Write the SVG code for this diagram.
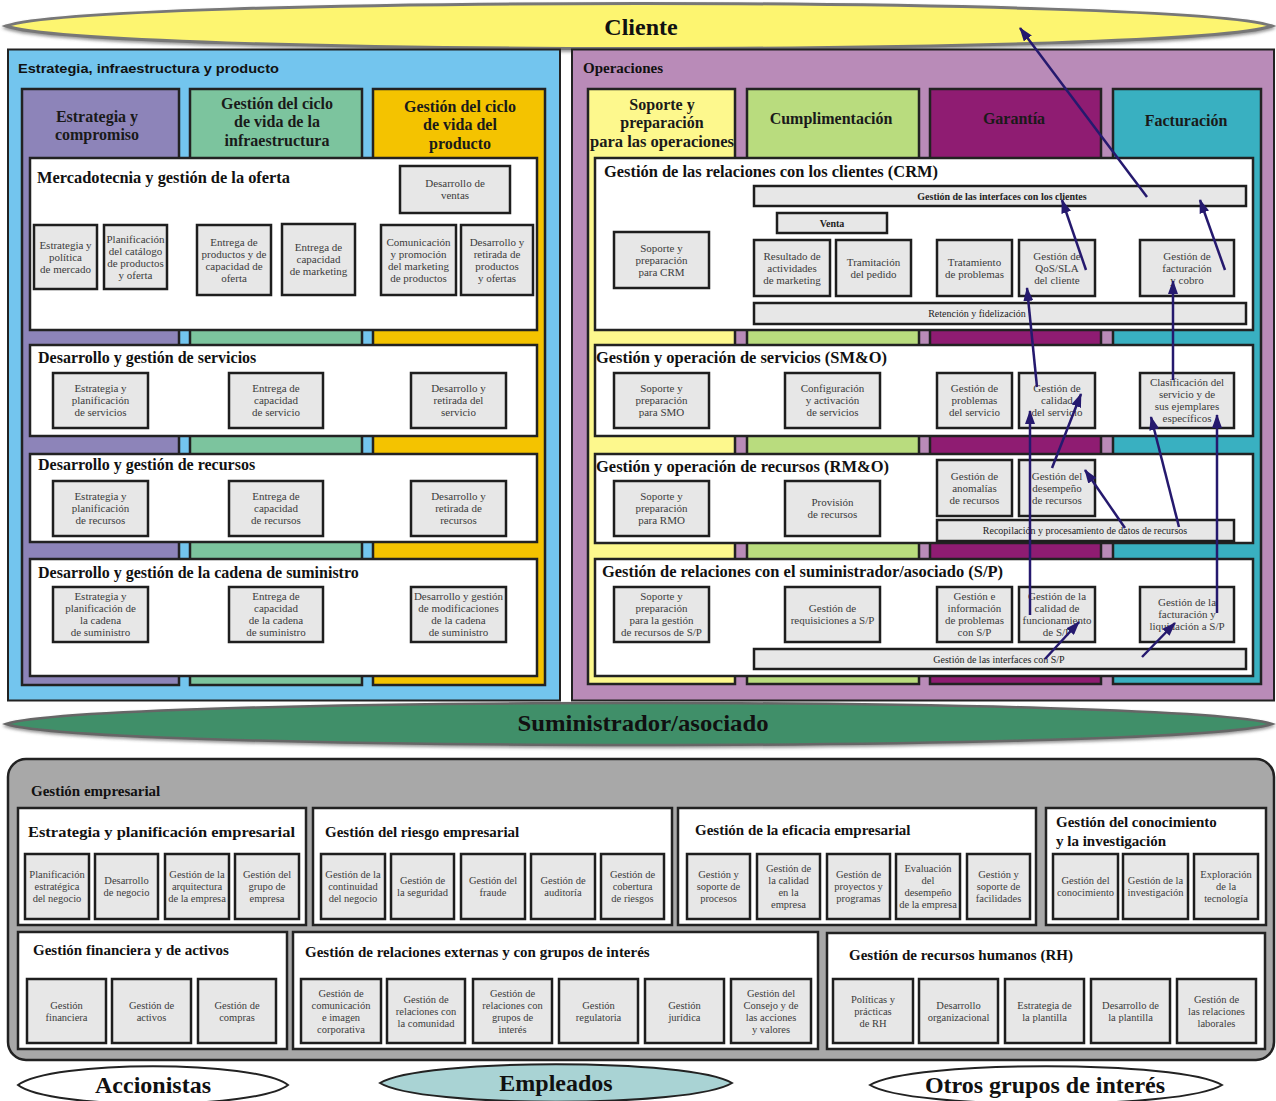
<svg xmlns="http://www.w3.org/2000/svg" width="1276" height="1101" viewBox="0 0 1276 1101">
<defs>
<style>
.panel{stroke:#222;stroke-width:2}
.col{stroke:#222;stroke-width:2.5}
.row{fill:#fff;stroke:#222;stroke-width:2.5}
.box{fill:#e7e7e7;stroke:#1e1e1e;stroke-width:2.5}
.bt{font-family:"Liberation Serif",serif;font-size:11px;fill:#3c3c3c;text-anchor:middle}
.bt2{font-family:"Liberation Serif",serif;font-size:10.5px;fill:#3c3c3c;text-anchor:middle}
.bart{font-family:"Liberation Serif",serif;font-size:10px;fill:#222;text-anchor:middle}
.hd{font-family:"Liberation Serif",serif;font-weight:bold;font-size:16px;fill:#1a1a1a;text-anchor:middle}
.rt{font-family:"Liberation Serif",serif;font-weight:bold;font-size:16px;fill:#111}
.gt{font-family:"Liberation Serif",serif;font-weight:bold;font-size:15px;fill:#111}
.big{font-family:"Liberation Serif",serif;font-weight:bold;font-size:24px;fill:#111;text-anchor:middle}
.conn{stroke:#25196e;stroke-width:2.5;fill:none;marker-end:url(#ah)}
</style>
<marker id="ah" viewBox="0 0 14 10" refX="13" refY="5" markerWidth="14" markerHeight="10" orient="auto" markerUnits="userSpaceOnUse"><path d="M0,0 L14,5 L0,10 z" fill="#25196e"/></marker>
<filter id="sh" x="-5%" y="-30%" width="110%" height="160%"><feDropShadow dx="0" dy="2" stdDeviation="1.5" flood-color="#555" flood-opacity="0.6"/></filter>
</defs>

<g id="cliente">
<path d="M6,26 C90,-4 1188,-4 1272,26 C1188,56 90,56 6,26 Z" fill="#fdf570" stroke="#777" stroke-width="3" filter="url(#sh)"/>
<text class="big" x="641" y="35">Cliente</text>
</g>

<g id="estrategia-panel">
<rect class="panel" x="8" y="49.5" width="552" height="651" fill="#73c5ee"/>
<text x="18" y="73" font-family="Liberation Sans,Arial,sans-serif" font-weight="bold" font-size="13.5" fill="#111" textLength="261" lengthAdjust="spacingAndGlyphs">Estrategia, infraestructura y producto</text>
<rect class="col" x="22" y="89" width="157" height="596" fill="#8d84b9"/>
<rect class="col" x="190" y="89" width="172" height="596" fill="#7cc49e"/>
<rect class="col" x="373" y="89" width="172" height="596" fill="#f4c300"/>
<text class="hd" x="97" y="122">Estrategia y</text>
<text class="hd" x="97" y="140">compromiso</text>
<text class="hd" x="277" y="109">Gestión del ciclo</text>
<text class="hd" x="277" y="127">de vida de la</text>
<text class="hd" x="277" y="146">infraestructura</text>
<text class="hd" x="460" y="112">Gestión del ciclo</text>
<text class="hd" x="460" y="130">de vida del</text>
<text class="hd" x="460" y="149">producto</text>
</g>

<g id="mercadotecnia">
<rect class="row" x="30" y="158" width="507" height="172"/>
<text class="rt" x="37" y="183" textLength="253" lengthAdjust="spacingAndGlyphs">Mercadotecnia y gestión de la oferta</text>
<rect class="box" x="400" y="166" width="110" height="47"/>
<text class="bt" x="455" y="187"><tspan x="455">Desarrollo de</tspan><tspan x="455" dy="12">ventas</tspan></text>
<rect class="box" x="34" y="225" width="63" height="64"/>
<text class="bt" x="65.5" y="248.5"><tspan x="65.5">Estrategia y</tspan><tspan x="65.5" dy="12">política</tspan><tspan x="65.5" dy="12">de mercado</tspan></text>
<rect class="box" x="104" y="225" width="63" height="64"/>
<text class="bt" x="135.5" y="242.5"><tspan x="135.5">Planificación</tspan><tspan x="135.5" dy="12">del catálogo</tspan><tspan x="135.5" dy="12">de productos</tspan><tspan x="135.5" dy="12">y oferta</tspan></text>
<rect class="box" x="197" y="225" width="74" height="70"/>
<text class="bt" x="234" y="245.5"><tspan x="234">Entrega de</tspan><tspan x="234" dy="12">productos y de</tspan><tspan x="234" dy="12">capacidad de</tspan><tspan x="234" dy="12">oferta</tspan></text>
<rect class="box" x="282" y="224" width="73" height="71"/>
<text class="bt" x="318.5" y="251"><tspan x="318.5">Entrega de</tspan><tspan x="318.5" dy="12">capacidad</tspan><tspan x="318.5" dy="12">de marketing</tspan></text>
<rect class="box" x="381" y="225" width="75" height="70"/>
<text class="bt" x="418.5" y="245.5"><tspan x="418.5">Comunicación</tspan><tspan x="418.5" dy="12">y promoción</tspan><tspan x="418.5" dy="12">del marketing</tspan><tspan x="418.5" dy="12">de productos</tspan></text>
<rect class="box" x="461" y="225" width="72" height="70"/>
<text class="bt" x="497" y="245.5"><tspan x="497">Desarrollo y</tspan><tspan x="497" dy="12">retirada de</tspan><tspan x="497" dy="12">productos</tspan><tspan x="497" dy="12">y ofertas</tspan></text>
</g>

<g id="servicios">
<rect class="row" x="30" y="345" width="507" height="91"/>
<text class="rt" x="38" y="363">Desarrollo y gestión de servicios</text>
<rect class="box" x="53" y="373" width="95" height="55"/>
<text class="bt" x="100.5" y="392"><tspan x="100.5">Estrategia y</tspan><tspan x="100.5" dy="12">planificación</tspan><tspan x="100.5" dy="12">de servicios</tspan></text>
<rect class="box" x="229" y="373" width="94" height="55"/>
<text class="bt" x="276" y="392"><tspan x="276">Entrega de</tspan><tspan x="276" dy="12">capacidad</tspan><tspan x="276" dy="12">de servicio</tspan></text>
<rect class="box" x="411" y="373" width="95" height="55"/>
<text class="bt" x="458.5" y="392"><tspan x="458.5">Desarrollo y</tspan><tspan x="458.5" dy="12">retirada del</tspan><tspan x="458.5" dy="12">servicio</tspan></text>
</g>

<g id="recursos">
<rect class="row" x="30" y="454" width="507" height="88"/>
<text class="rt" x="38" y="470">Desarrollo y gestión de recursos</text>
<rect class="box" x="53" y="481" width="95" height="55"/>
<text class="bt" x="100.5" y="500"><tspan x="100.5">Estrategia y</tspan><tspan x="100.5" dy="12">planificación</tspan><tspan x="100.5" dy="12">de recursos</tspan></text>
<rect class="box" x="229" y="481" width="94" height="55"/>
<text class="bt" x="276" y="500"><tspan x="276">Entrega de</tspan><tspan x="276" dy="12">capacidad</tspan><tspan x="276" dy="12">de recursos</tspan></text>
<rect class="box" x="411" y="481" width="95" height="55"/>
<text class="bt" x="458.5" y="500"><tspan x="458.5">Desarrollo y</tspan><tspan x="458.5" dy="12">retirada de</tspan><tspan x="458.5" dy="12">recursos</tspan></text>
</g>

<g id="cadena">
<rect class="row" x="30" y="559" width="507" height="117"/>
<text class="rt" x="38" y="578">Desarrollo y gestión de la cadena de suministro</text>
<rect class="box" x="53" y="587" width="95" height="55"/>
<text class="bt" x="100.5" y="600"><tspan x="100.5">Estrategia y</tspan><tspan x="100.5" dy="12">planificación de</tspan><tspan x="100.5" dy="12">la cadena</tspan><tspan x="100.5" dy="12">de suministro</tspan></text>
<rect class="box" x="229" y="587" width="94" height="55"/>
<text class="bt" x="276" y="600"><tspan x="276">Entrega de</tspan><tspan x="276" dy="12">capacidad</tspan><tspan x="276" dy="12">de la cadena</tspan><tspan x="276" dy="12">de suministro</tspan></text>
<rect class="box" x="411" y="587" width="95" height="55"/>
<text class="bt" x="458.5" y="600"><tspan x="458.5">Desarrollo y gestión</tspan><tspan x="458.5" dy="12">de modificaciones</tspan><tspan x="458.5" dy="12">de la cadena</tspan><tspan x="458.5" dy="12">de suministro</tspan></text>
</g>

<g id="operaciones-panel">
<rect class="panel" x="572" y="49.5" width="702" height="651" fill="#b98bb8"/>
<text x="583" y="73" font-family="Liberation Serif,serif" font-weight="bold" font-size="15" fill="#111">Operaciones</text>
<rect class="col" x="588" y="89" width="147" height="595" fill="#fdf88d"/>
<rect class="col" x="747" y="89" width="172" height="595" fill="#b9dc7e"/>
<rect class="col" x="930" y="89" width="171" height="595" fill="#8f1c72"/>
<rect class="col" x="1113" y="89" width="148" height="595" fill="#39b0c1"/>
<text class="hd" x="662" y="110">Soporte y</text>
<text class="hd" x="662" y="128">preparación</text>
<text class="hd" x="662" y="147" textLength="144" lengthAdjust="spacingAndGlyphs">para las operaciones</text>
<text class="hd" x="831" y="124">Cumplimentación</text>
<text class="hd" x="1014" y="124" fill="#2a1a24">Garantía</text>
<text class="hd" x="1186" y="126">Facturación</text>
</g>

<g id="crm">
<rect class="row" x="595" y="158" width="658" height="172"/>
<text class="rt" x="604" y="177" textLength="334" lengthAdjust="spacingAndGlyphs">Gestión de las relaciones con los clientes (CRM)</text>
<rect class="box" x="754" y="186" width="492" height="20"/>
<text class="bart" x="1002" y="200" font-weight="bold">Gestión de las interfaces con los clientes</text>
<rect class="box" x="777" y="213" width="110" height="20"/>
<text class="bart" x="832" y="227" font-weight="bold">Venta</text>
<rect class="box" x="614" y="232" width="95" height="56"/>
<text class="bt" x="661.5" y="251.5"><tspan x="661.5">Soporte y</tspan><tspan x="661.5" dy="12">preparación</tspan><tspan x="661.5" dy="12">para CRM</tspan></text>
<rect class="box" x="754" y="240" width="76" height="56"/>
<text class="bt" x="792" y="259.5"><tspan x="792">Resultado de</tspan><tspan x="792" dy="12">actividades</tspan><tspan x="792" dy="12">de marketing</tspan></text>
<rect class="box" x="836" y="240" width="75" height="56"/>
<text class="bt" x="873.5" y="265.5"><tspan x="873.5">Tramitación</tspan><tspan x="873.5" dy="12">del pedido</tspan></text>
<rect class="box" x="937" y="240" width="75" height="56"/>
<text class="bt" x="974.5" y="265.5"><tspan x="974.5">Tratamiento</tspan><tspan x="974.5" dy="12">de problemas</tspan></text>
<rect class="box" x="1019" y="240" width="76" height="56"/>
<text class="bt" x="1057" y="259.5"><tspan x="1057">Gestión de</tspan><tspan x="1057" dy="12">QoS/SLA</tspan><tspan x="1057" dy="12">del cliente</tspan></text>
<rect class="box" x="1140" y="240" width="94" height="56"/>
<text class="bt" x="1187" y="259.5"><tspan x="1187">Gestión de</tspan><tspan x="1187" dy="12">facturación</tspan><tspan x="1187" dy="12">y cobro</tspan></text>
<rect class="box" x="754" y="303" width="492" height="21"/>
<text class="bart" x="977" y="317">Retención y fidelización</text>
</g>

<g id="smo">
<rect class="row" x="595" y="345" width="658" height="91"/>
<text class="rt" x="596" y="363" textLength="291" lengthAdjust="spacingAndGlyphs">Gestión y operación de servicios (SM&amp;O)</text>
<rect class="box" x="614" y="373" width="95" height="55"/>
<text class="bt" x="661.5" y="392"><tspan x="661.5">Soporte y</tspan><tspan x="661.5" dy="12">preparación</tspan><tspan x="661.5" dy="12">para SMO</tspan></text>
<rect class="box" x="785" y="373" width="95" height="55"/>
<text class="bt" x="832.5" y="392"><tspan x="832.5">Configuración</tspan><tspan x="832.5" dy="12">y activación</tspan><tspan x="832.5" dy="12">de servicios</tspan></text>
<rect class="box" x="937" y="373" width="75" height="55"/>
<text class="bt" x="974.5" y="392"><tspan x="974.5">Gestión de</tspan><tspan x="974.5" dy="12">problemas</tspan><tspan x="974.5" dy="12">del servicio</tspan></text>
<rect class="box" x="1019" y="373" width="76" height="55"/>
<text class="bt" x="1057" y="392"><tspan x="1057">Gestión de</tspan><tspan x="1057" dy="12">calidad</tspan><tspan x="1057" dy="12">del servicio</tspan></text>
<rect class="box" x="1140" y="373" width="94" height="55"/>
<text class="bt" x="1187" y="386"><tspan x="1187">Clasificación del</tspan><tspan x="1187" dy="12">servicio y de</tspan><tspan x="1187" dy="12">sus ejemplares</tspan><tspan x="1187" dy="12">específicos</tspan></text>
</g>

<g id="rmo">
<rect class="row" x="595" y="454" width="658" height="89"/>
<text class="rt" x="596" y="472" textLength="293" lengthAdjust="spacingAndGlyphs">Gestión y operación de recursos (RM&amp;O)</text>
<rect class="box" x="614" y="481" width="95" height="55"/>
<text class="bt" x="661.5" y="500"><tspan x="661.5">Soporte y</tspan><tspan x="661.5" dy="12">preparación</tspan><tspan x="661.5" dy="12">para RMO</tspan></text>
<rect class="box" x="785" y="481" width="95" height="55"/>
<text class="bt" x="832.5" y="506"><tspan x="832.5">Provisión</tspan><tspan x="832.5" dy="12">de recursos</tspan></text>
<rect class="box" x="937" y="460" width="75" height="56"/>
<text class="bt" x="974.5" y="479.5"><tspan x="974.5">Gestión de</tspan><tspan x="974.5" dy="12">anomalías</tspan><tspan x="974.5" dy="12">de recursos</tspan></text>
<rect class="box" x="1019" y="460" width="76" height="56"/>
<text class="bt" x="1057" y="479.5"><tspan x="1057">Gestión del</tspan><tspan x="1057" dy="12">desempeño</tspan><tspan x="1057" dy="12">de recursos</tspan></text>
<rect class="box" x="937" y="520" width="297" height="21"/>
<text class="bart" x="1085" y="534">Recopilación y procesamiento de datos de recursos</text>
</g>

<g id="sp">
<rect class="row" x="595" y="559" width="658" height="117"/>
<text class="rt" x="602" y="577" textLength="401" lengthAdjust="spacingAndGlyphs">Gestión de relaciones con el suministrador/asociado (S/P)</text>
<rect class="box" x="614" y="587" width="95" height="55"/>
<text class="bt" x="661.5" y="600"><tspan x="661.5">Soporte y</tspan><tspan x="661.5" dy="12">preparación</tspan><tspan x="661.5" dy="12">para la gestión</tspan><tspan x="661.5" dy="12">de recursos de S/P</tspan></text>
<rect class="box" x="785" y="587" width="95" height="55"/>
<text class="bt" x="832.5" y="612"><tspan x="832.5">Gestión de</tspan><tspan x="832.5" dy="12">requisiciones a S/P</tspan></text>
<rect class="box" x="937" y="587" width="75" height="55"/>
<text class="bt" x="974.5" y="600"><tspan x="974.5">Gestión e</tspan><tspan x="974.5" dy="12">información</tspan><tspan x="974.5" dy="12">de problemas</tspan><tspan x="974.5" dy="12">con S/P</tspan></text>
<rect class="box" x="1019" y="587" width="76" height="55"/>
<text class="bt" x="1057" y="600"><tspan x="1057">Gestión de la</tspan><tspan x="1057" dy="12">calidad de</tspan><tspan x="1057" dy="12">funcionamiento</tspan><tspan x="1057" dy="12">de S/P</tspan></text>
<rect class="box" x="1140" y="587" width="94" height="55"/>
<text class="bt" x="1187" y="606"><tspan x="1187">Gestión de la</tspan><tspan x="1187" dy="12">facturación y</tspan><tspan x="1187" dy="12">liquidación a S/P</tspan></text>
<rect class="box" x="754" y="649" width="492" height="20"/>
<text class="bart" x="999" y="663">Gestión de las interfaces con S/P</text>
</g>

<g id="suministrador">
<path d="M6,724 C90,696 1188,696 1272,724 C1188,752 90,752 6,724 Z" fill="#418f69" stroke="#666" stroke-width="2.5" filter="url(#sh)"/>
<text class="big" x="643" y="731" textLength="251" lengthAdjust="spacingAndGlyphs">Suministrador/asociado</text>
</g>

<g id="gestion-empresarial">
<rect x="8" y="759" width="1266" height="301" rx="18" fill="#a8a8a8" stroke="#222" stroke-width="2.5"/>
<text class="gt" x="31" y="796">Gestión empresarial</text>
</g>

<g id="estrategia-empresarial">
<rect class="row" x="18" y="808" width="288" height="117"/>
<text class="gt" x="28" y="837" textLength="267" lengthAdjust="spacingAndGlyphs">Estrategia y planificación empresarial</text>
<rect class="box" x="25" y="854" width="64" height="65"/>
<text class="bt2" x="57" y="878"><tspan x="57">Planificación</tspan><tspan x="57" dy="12">estratégica</tspan><tspan x="57" dy="12">del negocio</tspan></text>
<rect class="box" x="95" y="854" width="63" height="65"/>
<text class="bt2" x="126.5" y="884"><tspan x="126.5">Desarrollo</tspan><tspan x="126.5" dy="12">de negocio</tspan></text>
<rect class="box" x="165" y="854" width="64" height="65"/>
<text class="bt2" x="197" y="878"><tspan x="197">Gestión de la</tspan><tspan x="197" dy="12">arquitectura</tspan><tspan x="197" dy="12">de la empresa</tspan></text>
<rect class="box" x="235" y="854" width="64" height="65"/>
<text class="bt2" x="267" y="878"><tspan x="267">Gestión del</tspan><tspan x="267" dy="12">grupo de</tspan><tspan x="267" dy="12">empresa</tspan></text>
</g>

<g id="riesgo">
<rect class="row" x="313" y="808" width="359" height="117"/>
<text class="gt" x="325" y="837">Gestión del riesgo empresarial</text>
<rect class="box" x="321" y="854" width="64" height="65"/>
<text class="bt2" x="353" y="878"><tspan x="353">Gestión de la</tspan><tspan x="353" dy="12">continuidad</tspan><tspan x="353" dy="12">del negocio</tspan></text>
<rect class="box" x="391" y="854" width="63" height="65"/>
<text class="bt2" x="422.5" y="884"><tspan x="422.5">Gestión de</tspan><tspan x="422.5" dy="12">la seguridad</tspan></text>
<rect class="box" x="461" y="854" width="64" height="65"/>
<text class="bt2" x="493" y="884"><tspan x="493">Gestión del</tspan><tspan x="493" dy="12">fraude</tspan></text>
<rect class="box" x="531" y="854" width="64" height="65"/>
<text class="bt2" x="563" y="884"><tspan x="563">Gestión de</tspan><tspan x="563" dy="12">auditoría</tspan></text>
<rect class="box" x="601" y="854" width="63" height="65"/>
<text class="bt2" x="632.5" y="878"><tspan x="632.5">Gestión de</tspan><tspan x="632.5" dy="12">cobertura</tspan><tspan x="632.5" dy="12">de riesgos</tspan></text>
</g>

<g id="eficacia">
<rect class="row" x="678" y="808" width="358" height="117"/>
<text class="gt" x="695" y="835">Gestión de la eficacia empresarial</text>
<rect class="box" x="687" y="854" width="63" height="65"/>
<text class="bt2" x="718.5" y="878"><tspan x="718.5">Gestión y</tspan><tspan x="718.5" dy="12">soporte de</tspan><tspan x="718.5" dy="12">procesos</tspan></text>
<rect class="box" x="757" y="854" width="63" height="65"/>
<text class="bt2" x="788.5" y="872"><tspan x="788.5">Gestión de</tspan><tspan x="788.5" dy="12">la calidad</tspan><tspan x="788.5" dy="12">en la</tspan><tspan x="788.5" dy="12">empresa</tspan></text>
<rect class="box" x="827" y="854" width="63" height="65"/>
<text class="bt2" x="858.5" y="878"><tspan x="858.5">Gestión de</tspan><tspan x="858.5" dy="12">proyectos y</tspan><tspan x="858.5" dy="12">programas</tspan></text>
<rect class="box" x="896" y="854" width="64" height="65"/>
<text class="bt2" x="928" y="872"><tspan x="928">Evaluación</tspan><tspan x="928" dy="12">del</tspan><tspan x="928" dy="12">desempeño</tspan><tspan x="928" dy="12">de la empresa</tspan></text>
<rect class="box" x="967" y="854" width="63" height="65"/>
<text class="bt2" x="998.5" y="878"><tspan x="998.5">Gestión y</tspan><tspan x="998.5" dy="12">soporte de</tspan><tspan x="998.5" dy="12">facilidades</tspan></text>
</g>

<g id="conocimiento">
<rect class="row" x="1046" y="808" width="220" height="117"/>
<text class="gt" x="1056" y="827">Gestión del conocimiento</text>
<text class="gt" x="1056" y="846">y la investigación</text>
<rect class="box" x="1053" y="854" width="65" height="65"/>
<text class="bt2" x="1085.5" y="884"><tspan x="1085.5">Gestión del</tspan><tspan x="1085.5" dy="12">conocimiento</tspan></text>
<rect class="box" x="1123" y="854" width="65" height="65"/>
<text class="bt2" x="1155.5" y="884"><tspan x="1155.5">Gestión de la</tspan><tspan x="1155.5" dy="12">investigación</tspan></text>
<rect class="box" x="1194" y="854" width="64" height="65"/>
<text class="bt2" x="1226" y="878"><tspan x="1226">Exploración</tspan><tspan x="1226" dy="12">de la</tspan><tspan x="1226" dy="12">tecnología</tspan></text>
</g>

<g id="financiera">
<rect class="row" x="18" y="932" width="269" height="117"/>
<text class="gt" x="33" y="955">Gestión financiera y de activos</text>
<rect class="box" x="27" y="979" width="79" height="64"/>
<text class="bt2" x="66.5" y="1008.5"><tspan x="66.5">Gestión</tspan><tspan x="66.5" dy="12">financiera</tspan></text>
<rect class="box" x="112" y="979" width="79" height="64"/>
<text class="bt2" x="151.5" y="1008.5"><tspan x="151.5">Gestión de</tspan><tspan x="151.5" dy="12">activos</tspan></text>
<rect class="box" x="198" y="979" width="78" height="64"/>
<text class="bt2" x="237" y="1008.5"><tspan x="237">Gestión de</tspan><tspan x="237" dy="12">compras</tspan></text>
</g>

<g id="relaciones-externas">
<rect class="row" x="293" y="932" width="525" height="117"/>
<text class="gt" x="305" y="957">Gestión de relaciones externas y con grupos de interés</text>
<rect class="box" x="301" y="979" width="80" height="64"/>
<text class="bt2" x="341" y="996.5"><tspan x="341">Gestión de</tspan><tspan x="341" dy="12">comunicación</tspan><tspan x="341" dy="12">e imagen</tspan><tspan x="341" dy="12">corporativa</tspan></text>
<rect class="box" x="387" y="979" width="78" height="64"/>
<text class="bt2" x="426" y="1002.5"><tspan x="426">Gestión de</tspan><tspan x="426" dy="12">relaciones con</tspan><tspan x="426" dy="12">la comunidad</tspan></text>
<rect class="box" x="473" y="979" width="79" height="64"/>
<text class="bt2" x="512.5" y="996.5"><tspan x="512.5">Gestión de</tspan><tspan x="512.5" dy="12">relaciones con</tspan><tspan x="512.5" dy="12">grupos de</tspan><tspan x="512.5" dy="12">interés</tspan></text>
<rect class="box" x="559" y="979" width="79" height="64"/>
<text class="bt2" x="598.5" y="1008.5"><tspan x="598.5">Gestión</tspan><tspan x="598.5" dy="12">regulatoria</tspan></text>
<rect class="box" x="645" y="979" width="79" height="64"/>
<text class="bt2" x="684.5" y="1008.5"><tspan x="684.5">Gestión</tspan><tspan x="684.5" dy="12">jurídica</tspan></text>
<rect class="box" x="731" y="979" width="80" height="64"/>
<text class="bt2" x="771" y="996.5"><tspan x="771">Gestión del</tspan><tspan x="771" dy="12">Consejo y de</tspan><tspan x="771" dy="12">las acciones</tspan><tspan x="771" dy="12">y valores</tspan></text>
</g>

<g id="rh">
<rect class="row" x="827" y="933" width="438" height="116"/>
<text class="gt" x="849" y="960">Gestión de recursos humanos (RH)</text>
<rect class="box" x="833" y="979" width="80" height="64"/>
<text class="bt2" x="873" y="1002.5"><tspan x="873">Políticas y</tspan><tspan x="873" dy="12">prácticas</tspan><tspan x="873" dy="12">de RH</tspan></text>
<rect class="box" x="919" y="979" width="79" height="64"/>
<text class="bt2" x="958.5" y="1008.5"><tspan x="958.5">Desarrollo</tspan><tspan x="958.5" dy="12">organizacional</tspan></text>
<rect class="box" x="1005" y="979" width="79" height="64"/>
<text class="bt2" x="1044.5" y="1008.5"><tspan x="1044.5">Estrategia de</tspan><tspan x="1044.5" dy="12">la plantilla</tspan></text>
<rect class="box" x="1091" y="979" width="79" height="64"/>
<text class="bt2" x="1130.5" y="1008.5"><tspan x="1130.5">Desarrollo de</tspan><tspan x="1130.5" dy="12">la plantilla</tspan></text>
<rect class="box" x="1177" y="979" width="79" height="64"/>
<text class="bt2" x="1216.5" y="1002.5"><tspan x="1216.5">Gestión de</tspan><tspan x="1216.5" dy="12">las relaciones</tspan><tspan x="1216.5" dy="12">laborales</tspan></text>
</g>

<g id="accionistas">
<path d="M18,1085 C50,1060 256,1060 288,1085 C256,1110 50,1110 18,1085 Z" fill="#fff" stroke="#222" stroke-width="2"/>
<text class="big" x="153" y="1093" font-size="22">Accionistas</text>
</g>
<g id="empleados">
<path d="M380,1083 C420,1058 692,1058 732,1083 C692,1108 420,1108 380,1083 Z" fill="#a9d3d4" stroke="#222" stroke-width="2"/>
<text class="big" x="556" y="1091" font-size="22">Empleados</text>
</g>
<g id="otros">
<path d="M870,1085 C910,1060 1182,1060 1222,1085 C1182,1110 910,1110 870,1085 Z" fill="#fff" stroke="#222" stroke-width="2"/>
<text class="big" x="1045" y="1093" font-size="23">Otros grupos de interés</text>
</g>

<g id="connectors">
<line class="conn" x1="1147" y1="197" x2="1020" y2="28"/>
<line class="conn" x1="1086" y1="270" x2="1062" y2="200"/>
<line class="conn" x1="1225" y1="270" x2="1200" y2="200"/>
<line class="conn" x1="1037" y1="387" x2="1027" y2="288"/>
<line class="conn" x1="1173" y1="380" x2="1173" y2="281"/>
<line class="conn" x1="1052" y1="468" x2="1081" y2="394"/>
<line class="conn" x1="1030" y1="615" x2="1030" y2="411"/>
<line class="conn" x1="1179" y1="527" x2="1151" y2="417"/>
<line class="conn" x1="1217" y1="613" x2="1217" y2="415"/>
<line class="conn" x1="1125" y1="528" x2="1085" y2="470"/>
<line class="conn" x1="1045" y1="659" x2="1079" y2="622"/>
<line class="conn" x1="1142" y1="657" x2="1175" y2="623"/>
</g>
</svg>
